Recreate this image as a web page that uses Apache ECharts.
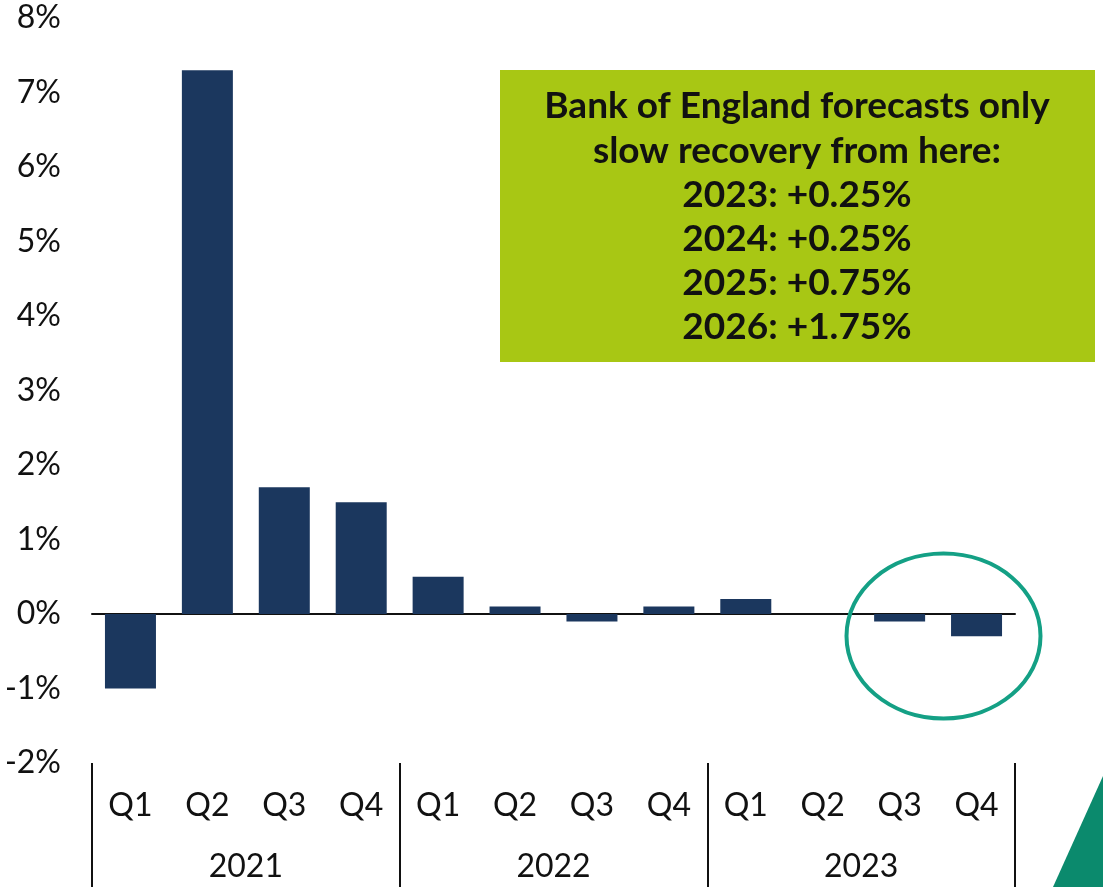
<!DOCTYPE html>
<html>
<head>
<meta charset="utf-8">
<script src="https://cdn.jsdelivr.net/npm/echarts@6/dist/echarts.min.js"></script>
<style>
  html, body { margin: 0; padding: 0; background: #ffffff; }
  #chart { width: 1103px; height: 887px; }
</style>
</head>
<body>
<div id="chart"></div>
<script>
// Quarterly GDP growth, UK
const quarters = ['Q1', 'Q2', 'Q3', 'Q4', 'Q1', 'Q2', 'Q3', 'Q4', 'Q1', 'Q2', 'Q3', 'Q4'];
const years = ['2021', '2022', '2023'];
const growth = [-1.0, 7.3, 1.7, 1.5, 0.5, 0.1, -0.1, 0.1, 0.2, 0.0, -0.1, -0.3];
const yTicks = { min: -2, max: 8, step: 1 };

// Forecast call-out
const calloutLines = [
  'Bank of England forecasts only',
  'slow recovery from here:',
  '2023: +0.25%',
  '2024: +0.25%',
  '2025: +0.75%',
  '2026: +1.75%'
];

const FONT = 'Lato, "Noto Sans", sans-serif';
const BAR = '#1b375e';
const TEAL = '#14a085';
const LIME = '#a8c714';
const LABEL_SIZE = 32;

const chart = echarts.init(document.getElementById('chart'), null, { renderer: 'canvas' });

const grid = { left: 92, right: 88, top: 18, bottom: 124 };

chart.setOption({
  animation: false,
  backgroundColor: '#ffffff',
  grid: grid,
  xAxis: [
    {
      // zero line
      type: 'category',
      data: quarters,
      axisLine: { onZero: true, lineStyle: { color: '#111111', width: 2 } },
      axisTick: { show: false },
      axisLabel: { show: false },
      splitLine: { show: false }
    },
    {
      // quarter labels
      type: 'category',
      data: quarters,
      position: 'bottom',
      axisLine: { show: false, onZero: false },
      axisTick: { show: false },
      axisLabel: {
        color: '#111111',
        fontFamily: FONT,
        fontSize: LABEL_SIZE,
        margin: 27,
        interval: 0
      }
    },
    {
      // year groups with separators
      type: 'category',
      data: years,
      position: 'bottom',
      axisLine: { show: false, onZero: false },
      axisTick: { show: true, length: 124, lineStyle: { color: '#111111', width: 2 } },
      axisLabel: {
        color: '#111111',
        fontFamily: FONT,
        fontSize: LABEL_SIZE,
        margin: 88,
        interval: 0
      }
    }
  ],
  yAxis: {
    type: 'value',
    min: yTicks.min,
    max: yTicks.max,
    interval: yTicks.step,
    axisLine: { show: false },
    axisTick: { show: false },
    splitLine: { show: false },
    axisLabel: {
      formatter: '{value}%',
      color: '#111111',
      fontFamily: FONT,
      fontSize: LABEL_SIZE,
      margin: 31
    }
  },
  series: [
    {
      type: 'bar',
      xAxisIndex: 0,
      data: growth,
      barWidth: 51,
      itemStyle: { color: BAR },
      z: 1
    }
  ],
  graphic: [
    {
      type: 'rect',
      shape: { x: 500, y: 70, width: 595, height: 292 },
      style: { fill: LIME },
      z: 10
    },
    {
      type: 'text',
      x: 797,
      y: 217,
      style: {
        text: calloutLines.join('\n'),
        fill: '#111111',
        font: 'bold 37px ' + FONT,
        align: 'center',
        verticalAlign: 'middle',
        lineHeight: 44.2
      },
      z: 11
    },
    {
      type: 'ellipse',
      shape: { cx: 943.5, cy: 636, rx: 97, ry: 82.5 },
      style: { fill: 'none', stroke: TEAL, lineWidth: 4 },
      z: 10
    },
    {
      // corner accent
      type: 'polygon',
      shape: { points: [[1053, 887], [1103, 776], [1103, 887]] },
      style: { fill: '#0b8a6d' },
      z: 10
    }
  ]
});
</script>
</body>
</html>
